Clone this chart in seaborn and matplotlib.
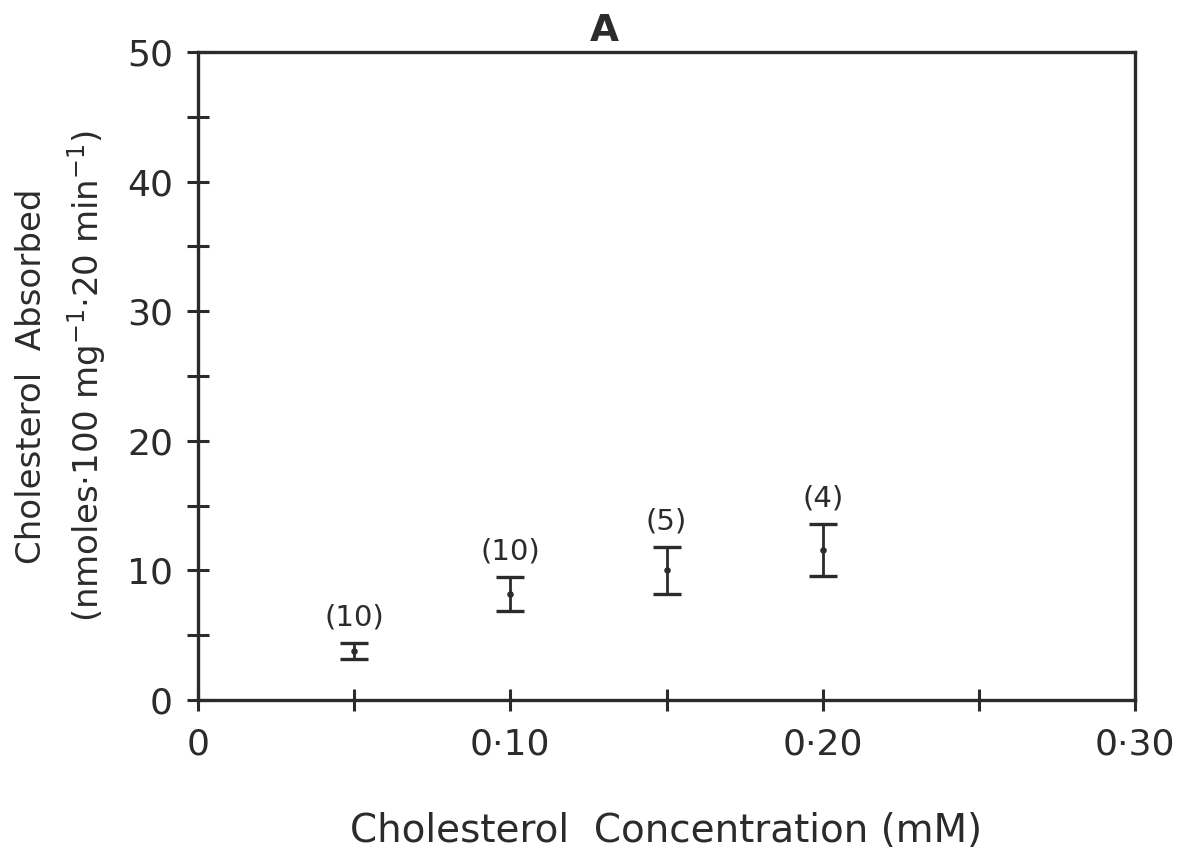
import numpy as np
import pandas as pd
import matplotlib
matplotlib.use('Agg')
import matplotlib.pyplot as plt
import seaborn as sns

# Werte
konzentration = [0.05, 0.10, 0.15, 0.20]
absorbiert = [3.8, 8.2, 10.0, 11.6]
fehler = [0.6, 1.3, 1.8, 2.0]
n_werte = ["(10)", "(10)", "(5)", "(4)"]

x_ticks = [0, 0.05, 0.10, 0.15, 0.20, 0.25, 0.30]
x_ticklabels = ["0", "", "0·10", "", "0·20", "", "0·30"]
y_ticks = [0, 5, 10, 15, 20, 25, 30, 35, 40, 45, 50]
y_ticklabels = ["0", "", "10", "", "20", "", "30", "", "40", "", "50"]

df = pd.DataFrame({'x': konzentration, 'y': absorbiert, 'err': fehler})

sns.set_style("white")
plt.rcParams['font.family'] = ['DejaVu Sans']

fig = plt.figure(figsize=(11.93, 8.57), dpi=100)
ax = fig.add_axes([198/1193, 1 - 700/857, (1135-198)/1193, (700-52)/857])

farbe = '#2b2b2b'
ax.errorbar(df['x'], df['y'], yerr=df['err'], fmt='none', ecolor=farbe,
            elinewidth=2, capsize=10, capthick=2.4)
sns.scatterplot(data=df, x='x', y='y', ax=ax, color=farbe, s=22,
                edgecolor=farbe, linewidth=0, zorder=3)

for xv, yv, ev, lab in zip(konzentration, absorbiert, fehler, n_werte):
    ax.text(xv, yv + ev + 0.9, lab, ha='center', va='bottom',
            fontsize=21, color=farbe)

ax.set_xlim(0, 0.30)
ax.set_ylim(0, 50)
ax.set_xticks(x_ticks)
ax.set_xticklabels(x_ticklabels)
ax.set_yticks(y_ticks)
ax.set_yticklabels(y_ticklabels)
ax.tick_params(axis='both', bottom=True, left=True, direction='inout',
               length=16, width=2.2, color=farbe, labelsize=26,
               labelcolor=farbe)
ax.tick_params(axis='x', pad=12)
ax.tick_params(axis='y', pad=10)

for sp in ax.spines.values():
    sp.set_visible(True)
    sp.set_linewidth(2.4)
    sp.set_color(farbe)

ax.set_xlabel("Cholesterol  Concentration (mM)", fontsize=28, color=farbe,
              labelpad=36)
ax.set_ylabel("Cholesterol  Absorbed\n(nmoles·100 mg$^{-1}$·20 min$^{-1}$)",
              fontsize=24.5, color=farbe, labelpad=14, linespacing=1.5)
ax.text(0.13, 50.2, "A", ha='center', va='bottom', fontsize=27,
        fontweight='bold', color=farbe)

fig.savefig('out.png', dpi=100)
plt.close(fig)
